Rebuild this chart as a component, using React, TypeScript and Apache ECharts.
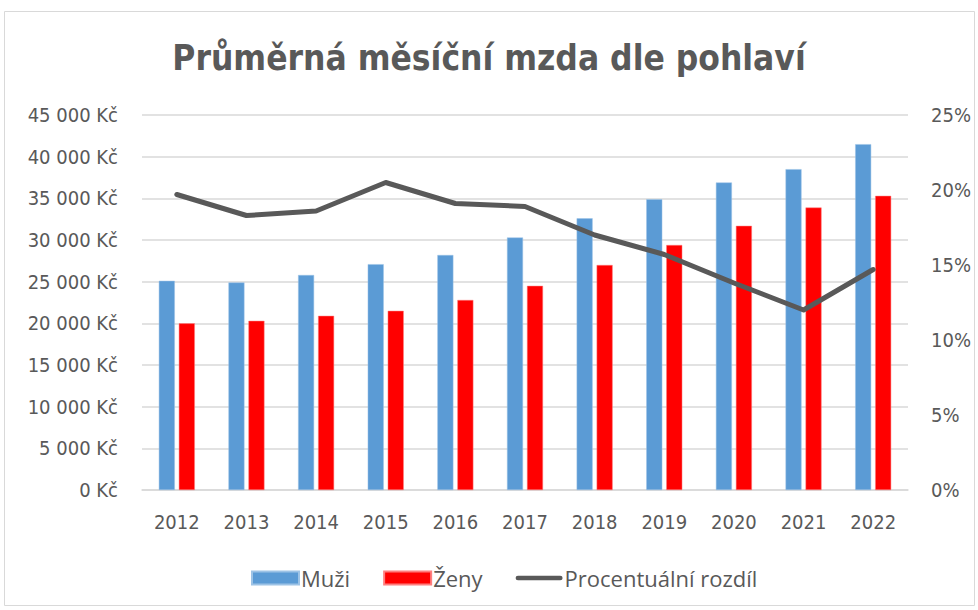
import React, { useEffect, useRef } from "react";
import * as echarts from "echarts";

const years = ["2012", "2013", "2014", "2015", "2016", "2017", "2018", "2019", "2020", "2021", "2022"];
const muzi = [25100, 24900, 25800, 27100, 28200, 30300, 32600, 34900, 36900, 38500, 41500];
const zeny = [20000, 20300, 20900, 21500, 22800, 24500, 27000, 29400, 31700, 33900, 35300];
const rozdil = [0.197, 0.183, 0.186, 0.205, 0.191, 0.189, 0.170, 0.157, 0.138, 0.120, 0.147];

const FONT = "'DejaVu Sans Condensed', 'Open Sans', sans-serif";
const LEGEND_FONT = "'Open Sans', sans-serif";
const TXT = "#595959";
const LINE_ICON = "path://M2.5,0 H47.5 A2.5,2.5 0 0 1 47.5,5 H2.5 A2.5,2.5 0 0 1 2.5,0 Z";

function fmtKc(v: number) {
  return String(v).replace(/\B(?=(\d{3})+(?!\d))/g, " ") + " Kč";
}

export default function App() {
  const ref = useRef<HTMLDivElement>(null);
  useEffect(() => {
    if (!ref.current) return;
    const chart = echarts.init(ref.current, undefined, { renderer: "svg" });
    chart.setOption({
      animation: false,
      backgroundColor: "#ffffff",
      textStyle: { fontFamily: FONT },
      title: {
        text: "Průměrná měsíční mzda dle pohlaví",
        left: "center",
        top: 35,
        textStyle: { fontFamily: FONT, fontSize: 35, fontWeight: "bold", color: TXT },
      },
      graphic: [
        {
          type: "rect",
          shape: { x: 4.5, y: 11.5, width: 970, height: 594 },
          style: { fill: "none", stroke: "#D9D9D9", lineWidth: 1 },
          silent: true,
        },
      ],
      legend: {
        top: 562,
        left: 246,
        itemWidth: 47,
        itemHeight: 13,
        itemGap: 33,
        textStyle: { fontFamily: LEGEND_FONT, fontSize: 22, color: TXT, padding: [0, 0, 0, -3] },
        data: [
          { name: "Muži", icon: "rect" },
          { name: "Ženy", icon: "rect" },
          { name: "Procentuální rozdíl", icon: LINE_ICON },
        ],
      },
      grid: { left: 142, right: 70, top: 115, height: 375 },
      xAxis: {
        type: "category",
        data: years,
        axisLine: { show: true, lineStyle: { color: "#D9D9D9", width: 1.5 } },
        axisTick: { show: false },
        axisLabel: { color: TXT, fontSize: 20, fontFamily: FONT, margin: 22 },
      },
      yAxis: [
        {
          type: "value",
          min: 0,
          max: 45000,
          interval: 5000,
          axisLine: { show: false },
          axisTick: { show: false },
          splitLine: { lineStyle: { color: "#D9D9D9", width: 1.5 } },
          axisLabel: { color: TXT, fontSize: 20, fontFamily: FONT, margin: 24, formatter: fmtKc },
        },
        {
          type: "value",
          min: 0,
          max: 0.25,
          interval: 0.05,
          axisLine: { show: false },
          axisTick: { show: false },
          splitLine: { show: false },
          axisLabel: {
            color: TXT,
            fontSize: 20,
            fontFamily: FONT,
            margin: 23,
            formatter: (v: number) => Math.round(v * 100) + "%",
          },
        },
      ],
      series: [
        {
          name: "Muži",
          type: "bar",
          data: muzi,
          barWidth: 16,
          barGap: "25%",
          itemStyle: { color: "#5B9BD5", borderColor: "#9DC3E6", borderWidth: 0.5 },
        },
        {
          name: "Ženy",
          type: "bar",
          data: zeny,
          barWidth: 16,
          itemStyle: { color: "#FF0000", borderColor: "#FF7F7F", borderWidth: 0.5 },
        },
        {
          name: "Procentuální rozdíl",
          type: "line",
          yAxisIndex: 1,
          data: rozdil,
          symbol: "none",
          lineStyle: { color: "#595959", width: 5, cap: "round", join: "round" },
          itemStyle: { color: "#595959" },
        },
      ],
    });
    return () => chart.dispose();
  }, []);
  return (
    <div
      ref={ref}
      style={{ position: "fixed", left: 0, top: 0, width: 978, height: 610 }}
    />
  );
}
